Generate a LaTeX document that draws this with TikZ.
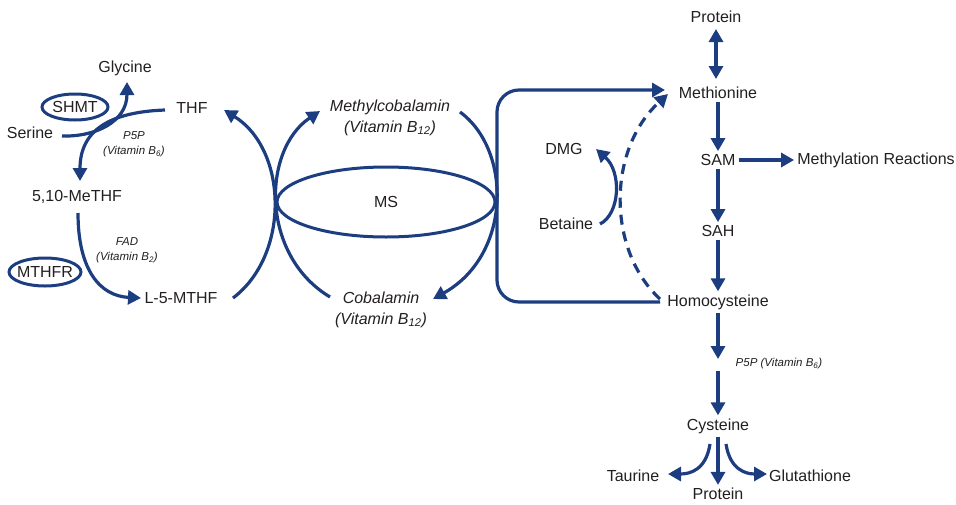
\documentclass[tikz,border=0pt]{standalone}
\usepackage{fontspec}
\setmainfont{Liberation Sans}
\usetikzlibrary{arrows.meta,shapes.geometric}
\definecolor{pathblue}{RGB}{28,62,128}
\definecolor{txt}{RGB}{35,31,32}
\tikzset{
  lbl/.style={text=txt, font=\fontsize{16}{20}\selectfont, inner sep=3pt},
  ilbl/.style={text=txt, font=\fontsize{16}{20.5}\selectfont\itshape, align=center, inner sep=1pt},
  slbl/.style={text=txt, font=\fontsize{11.5}{15}\selectfont\itshape, align=center, inner sep=1pt},
  arr/.style={draw=pathblue, line width=3.2pt, -{Triangle[length=13pt,width=14pt]}},
  dbl/.style={draw=pathblue, line width=3.2pt, {Triangle[length=13pt,width=14pt]}-{Triangle[length=13pt,width=14pt]}},
  enz/.style={draw=pathblue, line width=3pt},
}
\begin{document}
\begin{tikzpicture}[x=1pt,y=-1pt]
\useasboundingbox (0,0) rectangle (956,504);
% right column
\node[lbl] (prot1) at (716,17) {Protein};
\node[lbl] (met) at (718,93) {Methionine};
\node[lbl] (sam) at (718,160) {SAM};
\node[lbl] (meth) at (876,160) {Methylation Reactions};
\node[lbl] (sah) at (718,231) {SAH};
\node[lbl] (hcy) at (718,302) {Homocysteine};
\node[slbl] (p5p2) at (779,364) {P5P (Vitamin B\textsubscript{6})};
\node[lbl] (cys) at (718,426) {Cysteine};
\node[lbl] (tau) at (633,476) {Taurine};
\node[lbl] (prot2) at (718,494) {Protein};
\node[lbl] (glu) at (810,476) {Glutathione};
% betaine
\node[lbl] (dmg) at (564,149) {DMG};
\node[lbl] (bet) at (566,224) {Betaine};
% MS
\node[ilbl] (mcob) at (390,118) {Methylcobalamin\\(Vitamin B\textsubscript{12})};
\node[lbl] (ms) at (386,202) {MS};
\draw[enz] (ms) ellipse [x radius=109, y radius=35];
\node[ilbl] (cob) at (381,310) {Cobalamin\\(Vitamin B\textsubscript{12})};
% folate
\node[lbl] (thf) at (192,108) {THF};
\node[lbl] (gly) at (125,68) {Glycine};
\node[lbl] (shmt) at (75,107) {SHMT};
\draw[enz] (shmt) ellipse [x radius=33, y radius=13];
\node[lbl] (ser) at (30,133) {Serine};
\node[slbl] (p5p1) at (134,144) {P5P\\(Vitamin B\textsubscript{6})};
\node[lbl] (mthf) at (77,197) {5,10-MeTHF};
\node[slbl] (fad) at (127,250) {FAD\\(Vitamin B\textsubscript{2})};
\node[lbl] (mthfr) at (45,272) {MTHFR};
\draw[enz] (mthfr) ellipse [x radius=36, y radius=14];
\node[lbl] (l5) at (181,298) {L-5-MTHF};
% coordinates
\coordinate (gapA) at (718,359);
\coordinate (gapB) at (718,371);
\coordinate (metL) at (665,90);
\coordinate (metD) at (668,94);
\coordinate (hcyL) at (660,302);
\coordinate (hcyD) at (660,299);
\coordinate (betE) at (600,224);
\coordinate (dmgE) at (596,149);
\coordinate (l5E) at (233,298);
\coordinate (thfE) at (224,110);
\coordinate (cobW) at (330,297);
\coordinate (mcobW) at (320,111);
\coordinate (mcobE) at (460,112);
\coordinate (cobE) at (433,299);
\coordinate (serE) at (62,136);
\coordinate (glyS) at (127,82);
\coordinate (thfW) at (165,110);
\coordinate (mthfN) at (80,181);
\coordinate (mthfS) at (78,213);
\coordinate (l5W) at (141,298);
\coordinate (cysL) at (710,444);
\coordinate (cysR) at (726,444);
\coordinate (tauE) at (668,474);
\coordinate (gluW) at (767,474);
% right column arrows
\draw[dbl] (716,29) -- (716,79);
\draw[arr] (met) -- (sam);
\draw[arr] (sam) -- (sah);
\draw[arr] (sam.east) -- (meth.west);
\draw[arr] (sah) -- (hcy);
\draw[arr] (hcy) -- (gapA);
\draw[arr] (gapB) -- (cys);
\draw[arr] (cys) -- (prot2);
\draw[arr] (cysL) .. controls (706,470) and (690,474) .. (tauE);
\draw[arr] (cysR) .. controls (730,470) and (746,474) .. (gluW);
% remethylation
\draw[arr, rounded corners=22pt] (hcyL) -| (497,200) |- (metL);
\draw[arr, dash pattern=on 10pt off 7pt] (hcyD) .. controls (607,250) and (607,150) .. (metD);
\draw[arr] (betE) .. controls (620,214) and (622,172) .. (dmgE);
% MS cycle
\draw[arr] (l5E) .. controls (290,255) and (288,150) .. (thfE);
\draw[arr] (cobW) .. controls (260,255) and (262,150) .. (mcobW);
\draw[arr] (mcobE) .. controls (512,150) and (512,255) .. (cobE);
% folate
\draw[arr] (serE) .. controls (95,137) and (127,122) .. (glyS);
\draw[arr] (thfW) .. controls (110,112) and (80,130) .. (mthfN);
\draw[arr] (mthfS) .. controls (78,270) and (100,296) .. (l5W);
\end{tikzpicture}
\end{document}
